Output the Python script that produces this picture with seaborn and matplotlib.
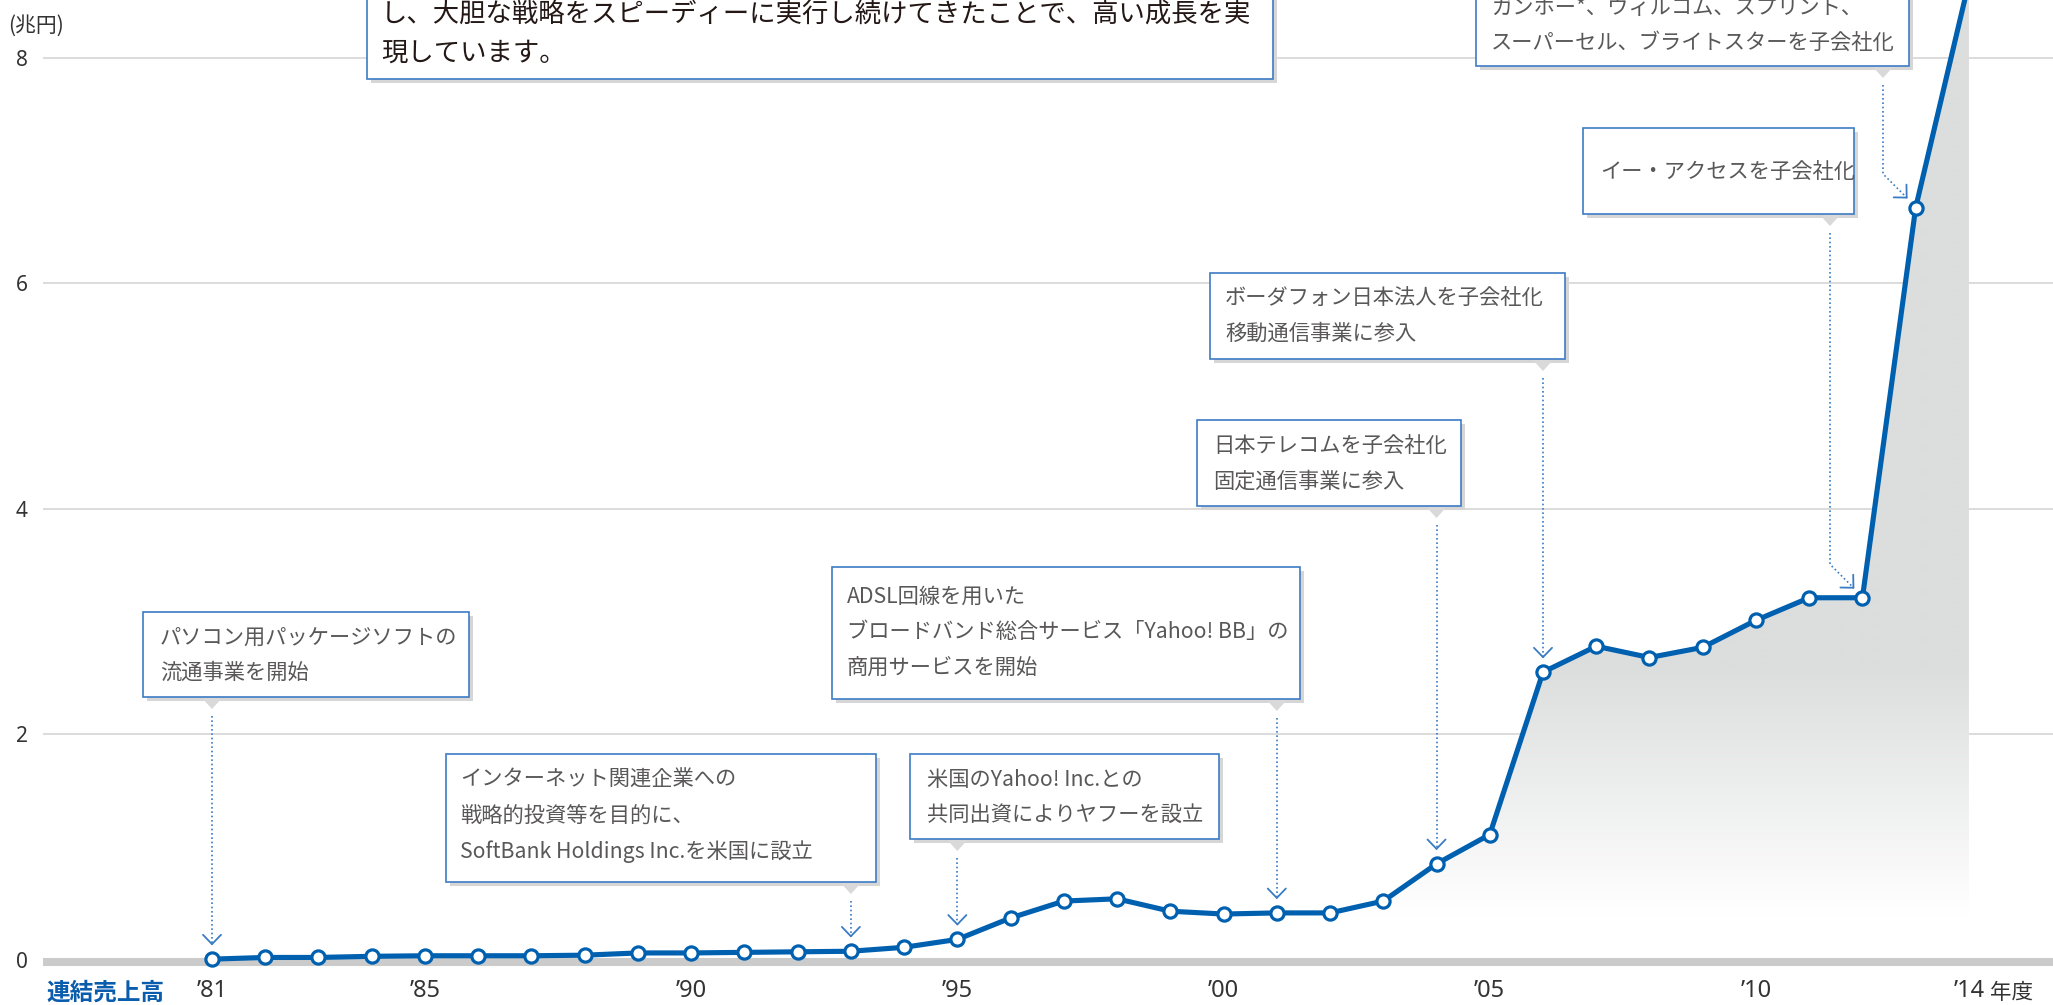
import numpy as np
import matplotlib
matplotlib.use("Agg")
import matplotlib.pyplot as plt
import seaborn as sns
from matplotlib.transforms import Affine2D
from matplotlib.patches import Rectangle, Polygon
from matplotlib.lines import Line2D

# ---------------- data ----------------
years = list(range(1981, 2015))
sales = [0.005, 0.02, 0.02, 0.03, 0.035, 0.035, 0.035, 0.04, 0.06, 0.06,
         0.065, 0.07, 0.075, 0.11, 0.18, 0.37, 0.52, 0.54, 0.43, 0.405,
         0.415, 0.415, 0.52, 0.85, 1.11, 2.55, 2.78, 2.68, 2.77, 3.01,
         3.21, 3.21, 6.67, 8.67]
xticks = [1981, 1985, 1990, 1995, 2000, 2005, 2010, 2014]
xticklabels = ["’81", "’85", "’90", "’95", "’00", "’05", "’10", "’14"]
yticks = [0, 2, 4, 6, 8]
yticklabels = ["0", "2", "4", "6", "8"]

intro_lines = ["し、大胆な戦略をスピーディーに実行し続けてきたことで、高い成長を実",
               "現しています。"]
events = [
    (1981, ["パソコン用パッケージソフトの", "流通事業を開始"]),
    (1993, ["インターネット関連企業への", "戦略的投資等を目的に、",
            "SoftBank Holdings Inc.を米国に設立"]),
    (2001, ["ADSL回線を用いた", "ブロードバンド総合サービス「Yahoo! BB」の",
            "商用サービスを開始"]),
    (1995, ["米国のYahoo! Inc.との", "共同出資によりヤフーを設立"]),
    (2004, ["日本テレコムを子会社化", "固定通信事業に参入"]),
    (2006, ["ボーダフォン日本法人を子会社化", "移動通信事業に参入"]),
    (2012, ["イー・アクセスを子会社化"]),
    (2013, ["ガンホー*、ウィルコム、スプリント、", "スーパーセル、ブライトスターを子会社化"]),
]

# ---------------- style ----------------
sns.set_theme(style="white")
plt.rcParams["font.family"] = ["Noto Sans CJK JP", "DejaVu Sans"]

BLUE = "#0060b0"
BORDER = "#3d7cc4"
DOT = "#3a7cc4"
TXT = "#595757"

W, H = 2053, 1005
fig = plt.figure(figsize=(W / 100, H / 100), dpi=100)
fig.patch.set_facecolor("white")

ax_left, ax_bottom_px = 43, 975
ax = fig.add_axes([ax_left / W, (H - ax_bottom_px) / H, (W - ax_left) / W, ax_bottom_px / H])

px_per_year = 53.24
px_per_unit = 112.76
zero_px = 959.7
x0 = 1981 - (212 - ax_left) / px_per_year
x1 = 1981 + (W - 212) / px_per_year
ylo = -(ax_bottom_px - zero_px) / px_per_unit
yhi = zero_px / px_per_unit

# gradient area under the curve
poly = ax.fill_between(years, sales, 0, color="none", lw=0)
yy = np.linspace(0, yhi, 400)
t = np.clip((yy - 0.4) / (2.6 - 0.4), 0, 1)
gray = np.array([220, 221, 221]) / 255.0
grad = (1 - t)[:, None] * np.ones(3)[None, :] + t[:, None] * gray[None, :]
im = ax.imshow(grad[:, None, :], extent=[years[0], years[-1], 0, yhi],
               origin="lower", aspect="auto", zorder=1, interpolation="bilinear")
im.set_clip_path(poly.get_paths()[0], transform=ax.transData)

# baseline band
ax.axhline(-0.02, color="#cbcbcb", lw=5.8, zorder=2)

# line
sns.lineplot(x=years, y=sales, ax=ax, color=BLUE, lw=3.7, marker="o",
             markersize=9.5, markerfacecolor="white", markeredgecolor=BLUE,
             markeredgewidth=2.3, zorder=5, errorbar=None)

ax.set_xlim(x0, x1)
ax.set_ylim(ylo, yhi)
ax.set_yticks(yticks, yticklabels)
ax.set_xticks(xticks, xticklabels)
for lab in ax.get_xticklabels():
    lab.set_fontfamily(["Noto Sans", "DejaVu Sans"])
for lab in ax.get_yticklabels():
    lab.set_fontfamily(["Noto Sans", "DejaVu Sans"])
ax.yaxis.grid(True, color="#d9d9d9", lw=1.3, zorder=0)
ax.set_axisbelow(True)
ax.tick_params(axis="x", length=0, pad=3, labelsize=17, labelcolor="#333333")
ax.tick_params(axis="y", length=0, pad=11, labelsize=15, labelcolor="#333333")
for s in ax.spines.values():
    s.set_visible(False)
ax.set_xlabel("")
ax.set_ylabel("")

# top-left pixel coordinate transform
T = Affine2D().scale(1, -1).translate(0, H)

fig.text(8, 26, "(兆円)", transform=T, va="center", ha="left", fontsize=15, color="#333333")
fig.text(46, 993, "連結売上高", transform=T, va="center", ha="left", fontsize=17,
         fontweight="bold", color="#0a5cad")
fig.text(1990, 993, "年度", transform=T, va="center", ha="left", fontsize=15.5, color="#333333")


def data_px(year, val):
    d = ax.transData.transform((year, val))
    return d[0], H - d[1]


def draw_box(l, t_, r, b, lines, tx, ys, size=15.3, color=TXT, pointer_x=None):
    fig.add_artist(Rectangle((l + 4, t_ + 4), r - l, b - t_, fc="#d6d6d6", ec="none",
                             transform=T, zorder=10))
    fig.add_artist(Rectangle((l, t_), r - l, b - t_, fc="white", ec=BORDER, lw=1.2,
                             transform=T, zorder=11))
    if pointer_x is not None:
        fig.add_artist(Polygon([(pointer_x - 10, b + 1), (pointer_x + 10, b + 1),
                                (pointer_x, b + 12)], closed=True, fc="#d9d9d9",
                               ec="none", transform=T, zorder=10))
    for s, y in zip(lines, ys):
        fig.text(tx, y, s, transform=T, va="center", ha="left", fontsize=size,
                 color=color, zorder=12)


def draw_arrow(path, tip):
    xs = [p[0] for p in path] + [tip[0]]
    ys = [p[1] for p in path] + [tip[1]]
    fig.add_artist(Line2D(xs, ys, transform=T, color=DOT, lw=1.2,
                          linestyle=(0, (1, 1.6)), zorder=9))
    dx, dy = tip[0] - xs[-2], tip[1] - ys[-2]
    n = np.hypot(dx, dy)
    dx, dy = dx / n, dy / n
    L = 13
    for ang in (np.deg2rad(44), -np.deg2rad(44)):
        c, s = np.cos(ang), np.sin(ang)
        ux = -(dx * c - dy * s)
        uy = -(dx * s + dy * c)
        fig.add_artist(Line2D([tip[0], tip[0] + L * ux], [tip[1], tip[1] + L * uy],
                              transform=T, color=DOT, lw=1.3, zorder=9))


# intro box (no pointer)
draw_box(367, -10, 1273, 79, intro_lines, 381, [15, 53], size=19, color="#231815")

# event boxes: (left, top, right, bottom, text_x, line_ys)
layout = {
    1981: (143, 612, 469, 697, 160, [638, 673]),
    1993: (446, 754, 876, 882, 460, [780, 817, 852]),
    2001: (832, 567, 1300, 699, 847, [597, 632, 668]),
    1995: (910, 754, 1219, 839, 927, [780, 815]),
    2004: (1197, 420, 1461, 506, 1213, [447, 482]),
    2006: (1210, 273, 1565, 359, 1225, [299, 334]),
    2012: (1583, 128, 1854, 214, 1600, [173]),
    2013: (1476, -10, 1909, 66, 1491, [8, 43]),
}
pointer_xs = {2012: 1830, 2013: 1883}

for yr, lines in events:
    l, t_, r, b, tx, ys = layout[yr]
    idx = years.index(yr)
    px, py = data_px(yr, sales[idx])
    pxp = pointer_xs.get(yr, px)
    draw_box(l, t_, r, b, lines, tx, ys, pointer_x=pxp)
    if yr in pointer_xs:
        tip = (px - 9, py - 10)
        bend = (pxp, tip[1] - (tip[0] - pxp))
        draw_arrow([(pxp, b + 19), bend], tip)
    else:
        tip = (px, py - 15)
        draw_arrow([(px, b + 19)], tip)

fig.savefig("out.png", dpi=100, facecolor="white")
